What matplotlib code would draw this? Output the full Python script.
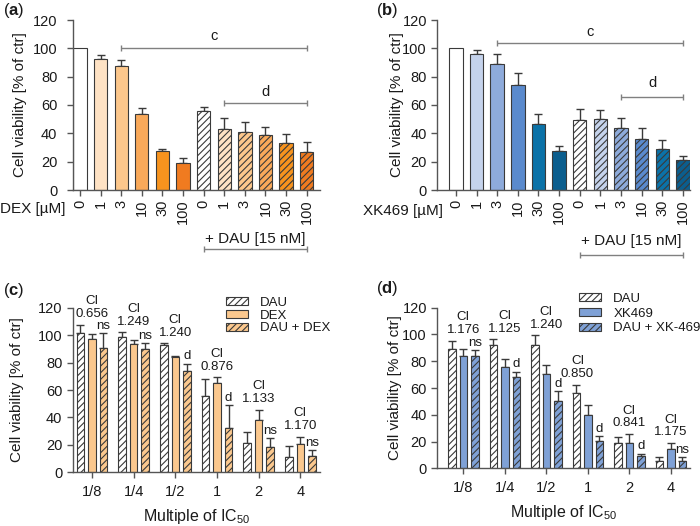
import matplotlib
matplotlib.use('Agg')
import matplotlib.pyplot as plt
import matplotlib.transforms as mtransforms
import numpy as np

plt.rcParams['font.family'] = ['Liberation Sans', 'DejaVu Sans']
plt.rcParams['mathtext.fontset'] = 'custom'
plt.rcParams['mathtext.rm'] = 'Liberation Sans'
plt.rcParams['mathtext.it'] = 'Liberation Sans:italic'
plt.rcParams['mathtext.bf'] = 'Liberation Sans:bold'
plt.rcParams['hatch.linewidth'] = 0.8

# ---------------- data ----------------
dose_labels = ['0', '1', '3', '10', '30', '100', '0', '1', '3', '10', '30', '100']

a_means = [100, 92.2, 87.3, 53.9, 27.3, 18.8, 55.5, 42.8, 41.2, 39.0, 33.2, 26.6]
a_err = [0, 2.8, 4.2, 4.0, 1.9, 4.0, 3.1, 8.2, 6.6, 5.5, 6.3, 7.5]

b_means = [100, 96.0, 88.9, 74.1, 46.6, 27.5, 49.2, 50.4, 43.5, 36.0, 28.7, 21.2]
b_err = [0, 2.6, 6.9, 8.3, 7.3, 3.3, 7.7, 5.8, 7.1, 7.8, 6.6, 2.8]

groups = ['1/8', '1/4', '1/2', '1', '2', '4']

c_dau = [101.3, 98.6, 92.5, 55.4, 21.1, 10.9]
c_dau_err = [6.3, 3.4, 1.5, 12.4, 8.3, 8.3]
c_dex = [96.9, 93.3, 83.8, 64.9, 38.1, 20.6]
c_dex_err = [3.9, 2.9, 1.0, 4.3, 7.6, 5.1]
c_combo = [90.4, 89.6, 73.6, 32.1, 18.2, 11.9]
c_combo_err = [10.9, 4.4, 5.6, 17.0, 6.6, 4.1]
c_ci = ['0.656', '1.249', '1.240', '0.876', '1.133', '1.170']
c_sig = ['ns', 'ns', 'd', 'd', 'ns', 'ns']

d_dau = [88.9, 92.1, 92.1, 56.3, 18.7, 5.2]
d_dau_err = [6.4, 4.2, 7.2, 5.9, 4.9, 3.3]
d_xk = [84.1, 75.9, 70.4, 40.1, 19.2, 14.2]
d_xk_err = [4.8, 5.7, 6.5, 6.9, 6.2, 4.5]
d_combo = [84.1, 68.0, 50.5, 20.7, 9.5, 5.7]
d_combo_err = [4.0, 4.2, 7.3, 3.4, 1.5, 2.5]
d_ci = ['1.176', '1.125', '1.240', '0.850', '0.841', '1.175']
d_sig = ['ns', 'd', 'd', 'd', 'd', 'ns']

# ---------------- style ----------------
a_colors = ['#ffffff', '#fee2c4', '#fcc78c', '#f9a95a', '#f7931e', '#f07b20']
b_colors = ['#ffffff', '#c5d3ec', '#8eabdb', '#5a8acd', '#0b72a8', '#0b5e8e']
dex_color = '#fbc88e'
xk_color = '#7fa1d6'
EDGE = '#3a3a3a'
AX = '#555555'
TXT = '#1a1a1a'
BRK = '#808080'
HATCH = '/////'

fig = plt.figure(figsize=(7, 5.26), dpi=100)


def px_axes(left, top, right, bottom):
    return fig.add_axes([left / 700, 1 - bottom / 526, (right - left) / 700, (bottom - top) / 526])


def style(ax, ypad, xpad):
    for s in ['top', 'right']:
        ax.spines[s].set_visible(False)
    for s in ['left', 'bottom']:
        ax.spines[s].set_color(AX)
        ax.spines[s].set_linewidth(1.0)
    ax.tick_params(direction='out', length=4.5, width=1, color=AX, labelsize=10.5,
                   labelcolor=TXT)
    ax.tick_params(axis='y', pad=ypad)
    ax.tick_params(axis='x', pad=xpad)
    ax.set_ylim(0, 120)
    ax.set_yticks(np.arange(0, 121, 20))
    ax.set_ylabel('Cell viability [% of ctr]', fontsize=11, color=TXT)
    ax.yaxis.label.set_va('center')
    ax.yaxis.label.set_ha('center')


def errbars(ax, x, m, e):
    x = np.asarray(x, float); m = np.asarray(m, float); e = np.asarray(e, float)
    k = e > 0
    ax.errorbar(x[k], m[k], yerr=[np.zeros(k.sum()), e[k]], fmt='none', ecolor=EDGE,
                elinewidth=1, capsize=3, capthick=1, zorder=1)


def bracket(ax, x0, x1, y, transform=None):
    kw = dict(color=BRK, lw=1, marker='|', markersize=5, markeredgewidth=1,
              solid_capstyle='butt', clip_on=False)
    if transform is not None:
        ax.plot([x0, x1], [y, y], transform=transform, **kw)
    else:
        ax.plot([x0, x1], [y, y], **kw)


def dose_panel(ax, means, err, colors, drug_label, brackets, xlim, dau_text_y, dau_line_y,
               drug_xy, ypad):
    style(ax, ypad, 2.5)
    x = np.arange(len(means))
    cols = colors + colors
    bars = ax.bar(x, means, width=0.65, color=cols, edgecolor=EDGE, linewidth=0.8, zorder=2)
    for i, b in enumerate(bars):
        if i >= 6:
            b.set_hatch(HATCH)
    errbars(ax, x, means, err)
    ax.set_xlim(*xlim)
    ax.set_xticks(x)
    ax.set_xticklabels(dose_labels, rotation=90)
    for (x0, x1, y, lab, ty) in brackets:
        bracket(ax, x0, x1, y)
        ax.text((x0 + x1) / 2, ty, lab, ha='center', va='center', fontsize=10.5, color=TXT)
    trans = mtransforms.blended_transform_factory(ax.transData, ax.transAxes)
    ax.text(8.5, dau_text_y, '+ DAU [15 nM]', transform=trans, ha='center', va='center',
            fontsize=11, color=TXT)
    bracket(ax, 6, 11, dau_line_y, transform=trans)
    ax.text(drug_xy[0], drug_xy[1], drug_label, transform=ax.transAxes, ha='right',
            va='center', fontsize=11, color=TXT)


axA = px_axes(72.7, 20, 320, 190)
dose_panel(axA, a_means, a_err, a_colors, 'DEX [µM]',
           [(2, 11, 100, 'c', 108.7), (7, 11, 61.2, 'd', 69.4)],
           (-0.354, 11.65), -(239 - 190) / 170, -(249.3 - 190) / 170, (-0.031, -0.112), 6.5)
axA.yaxis.set_label_coords(-0.213, 0.5)

axB = px_axes(437.3, 20, 690, 190)
dose_panel(axB, b_means, b_err, b_colors, 'XK469 [µM]',
           [(2, 11, 103.5, 'c', 111.8), (8, 11, 65.9, 'd', 75.3)],
           (-0.9, 11.34), -(241 - 190) / 170, -(255 - 190) / 170, (0.0226, -0.124), 3)
axB.yaxis.set_label_coords(-0.161, 0.5)


def combo_panel(ax, dau, dau_e, drug, drug_e, combo, combo_e, color, names, ci, sig,
                xlim, ci_dx, legend_xy, lspace):
    style(ax, 3, 5)
    g = np.arange(len(dau))
    off = 0.276
    w = 0.18
    b1 = ax.bar(g - off, dau, width=w, color='white', edgecolor=EDGE, linewidth=0.8,
                hatch=HATCH, zorder=2, label=names[0])
    b2 = ax.bar(g, drug, width=w, color=color, edgecolor=EDGE, linewidth=0.8,
                zorder=2, label=names[1])
    b3 = ax.bar(g + off, combo, width=w, color=color, edgecolor=EDGE, linewidth=0.8,
                hatch=HATCH, zorder=2, label=names[2])
    errbars(ax, g - off, dau, dau_e)
    errbars(ax, g, drug, drug_e)
    errbars(ax, g + off, combo, combo_e)
    ax.set_xlim(*xlim)
    ax.set_xticks(g)
    ax.set_xticklabels(groups)
    ax.set_xlabel('Multiple of IC$_{50}$', fontsize=11.5, color=TXT, labelpad=5.5)
    for i in range(len(g)):
        top = max(dau[i] + dau_e[i], drug[i] + drug_e[i], combo[i] + combo_e[i])
        ax.annotate('CI\n' + ci[i], xy=(g[i] + ci_dx[i], top), xytext=(0, 3.5),
                    textcoords='offset points', ha='center', va='bottom', fontsize=9.5,
                    color=TXT, linespacing=1.1, annotation_clip=False)
        ax.annotate(sig[i], xy=(g[i] + off, combo[i] + combo_e[i]), xytext=(0, 1),
                    textcoords='offset points', ha='center', va='bottom', fontsize=9.5,
                    color=TXT, annotation_clip=False)
    leg = ax.legend(handles=[b1, b2, b3], loc='upper left',
                    bbox_to_anchor=(legend_xy[0] / 700, 1 - legend_xy[1] / 526),
                    bbox_transform=fig.transFigure, frameon=False, fontsize=9.5,
                    handlelength=1.7, handleheight=0.55, handletextpad=0.9,
                    labelspacing=lspace, borderpad=0, borderaxespad=0)
    for t in leg.get_texts():
        t.set_color(TXT)


axC = px_axes(72.7, 307.7, 320, 472.3)
combo_panel(axC, c_dau, c_dau_err, c_dex, c_dex_err, c_combo, c_combo_err, dex_color,
            ['DAU', 'DEX', 'DAU + DEX'], c_ci, c_sig, (-0.46, 5.47),
            [0, 0, 0, 0, 0, 0], (226, 297), 0.05)
axC.yaxis.set_label_coords(-0.225, 0.5)

axD = px_axes(437.3, 307.7, 690, 468.3)
combo_panel(axD, d_dau, d_dau_err, d_xk, d_xk_err, d_combo, d_combo_err, xk_color,
            ['DAU', 'XK469', 'DAU + XK-469'], d_ci, d_sig, (-0.63, 5.46),
            [0, 0, 0, -0.25, 0, 0], (579, 293), 0.2)
axD.yaxis.set_label_coords(-0.167, 0.5)

# panel letters
for (x, y, l) in [(3, 10, 'a'), (376, 10, 'b'), (3, 290, 'c'), (376, 288, 'd')]:
    fig.text(x / 700, 1 - y / 526, '($\\mathbf{' + l + '}$)', ha='left', va='center',
             fontsize=12, color=TXT)

fig.savefig('out.png', dpi=100)
